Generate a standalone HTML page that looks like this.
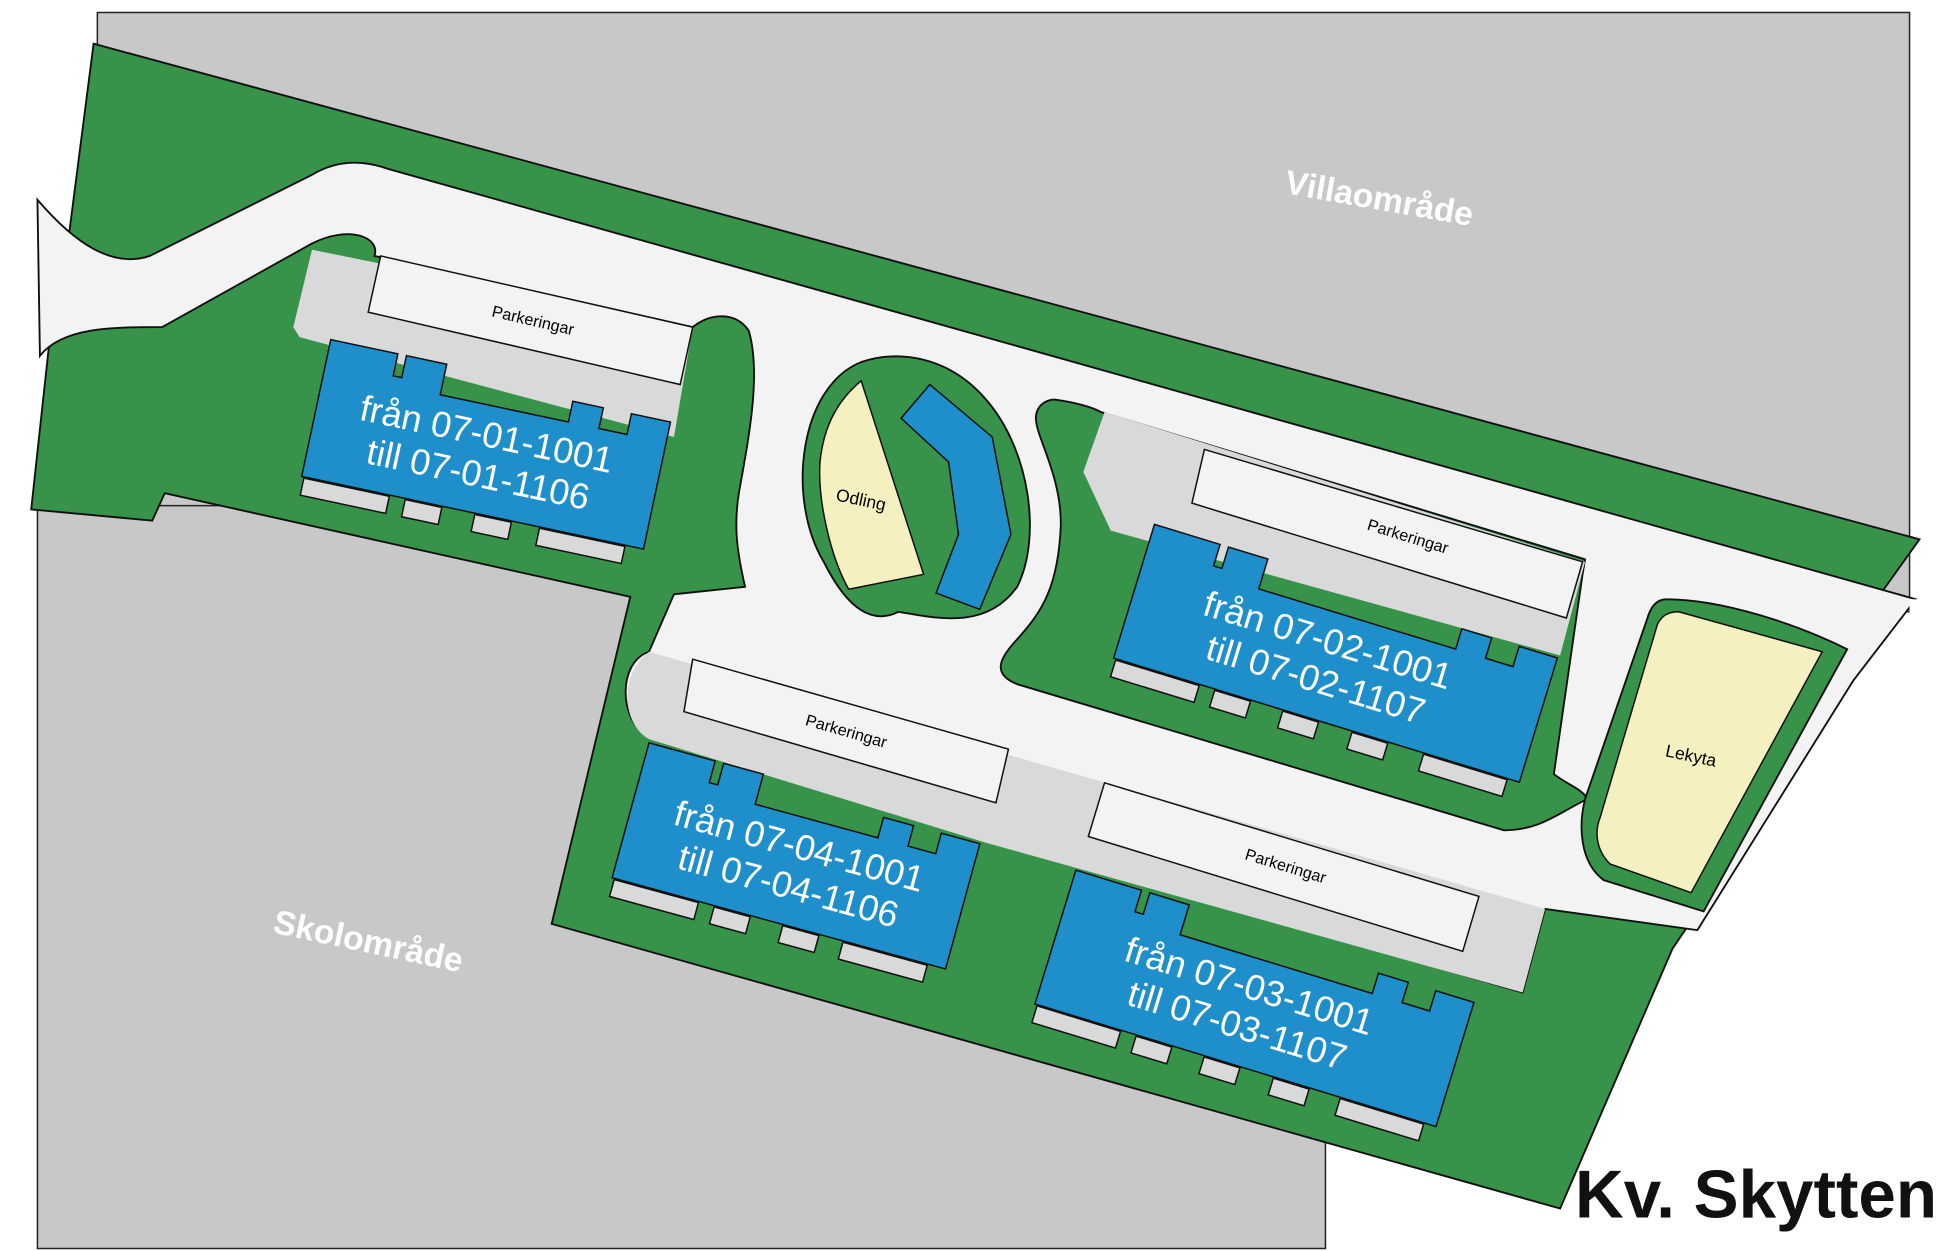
<!DOCTYPE html>
<html><head><meta charset="utf-8"><style>
html,body{margin:0;padding:0;background:#fff;}
svg{display:block;}
text{font-family:"Liberation Sans",sans-serif;}
</style></head><body>
<svg width="1947" height="1251" viewBox="0 0 1560 1002" preserveAspectRatio="none" xmlns="http://www.w3.org/2000/svg">
<rect width="1560" height="1002" fill="#fff"/>
<rect x="78" y="10" width="1452" height="480" fill="#c8c8c8" stroke="#222" stroke-width="1.2"/>
<rect x="30" y="405" width="1032" height="595" fill="#c8c8c8" stroke="#222" stroke-width="1.2"/>
<path d="M75,35 L1538,432 L1500,485 L1485,545 L1340,760 L1250,968 L442,740 L505,478 L132,395 L122,417 L25,408 L40,270 L55,190 Z" fill="#37924a" stroke="#111" stroke-width="1.5"/>
<path d="M30,160 C60,195 90,215 120,205 L250,140 C270,128 290,128 310,135 L1535,480 L1485,545 L1360,745 L1238,728 L1220,795 L520,590 C495,578 495,530 520,522 L540,476 L597,470 C590,440 588,420 592,395 C600,350 610,300 600,265 C590,250 570,250 555,262 L300,205 C305,190 280,180 250,195 L130,262 C90,262 50,262 32,285 Z" fill="#f3f3f3" stroke="#111" stroke-width="1.5"/>
<rect x="1530" y="480" width="30" height="70" fill="#fff"/>
<path d="M690,290 C640,310 630,400 660,450 C680,490 700,500 720,490 C750,495 790,505 815,470 C835,430 825,360 790,320 C760,285 720,280 690,290 Z" fill="#37924a" stroke="#111" stroke-width="1.5"/>
<path d="M690,305 L740,460 L680,472 C665,445 655,400 657,370 C660,340 672,320 690,305 Z" fill="#f5f0c0" stroke="#111" stroke-width="1.2"/>
<path d="M745,308 L795,350 L810,428 L785,488 L750,475 L768,428 L760,370 L722,335 Z" fill="#1e8fcb" stroke="#111" stroke-width="1.2"/>
<text x="690" y="405" font-size="14" transform="rotate(12 690 400)" text-anchor="middle">Odling</text>
<path d="M845,320 C860,322 875,326 882,330 L1270,448 L1268,460 L1245,620 C1255,628 1268,632 1272,640 C1250,650 1235,665 1205,665 L815,548 C795,540 800,528 815,512 C835,490 848,470 850,420 C850,380 830,350 830,335 C830,325 838,320 845,320 Z" fill="#37924a" stroke="#111" stroke-width="1.5"/>
<path d="M1335,480 C1380,480 1440,500 1480,520 L1365,730 L1285,705 C1265,690 1265,660 1270,640 L1320,495 C1323,485 1328,480 1335,480 Z" fill="#37924a" stroke="#111" stroke-width="1.5"/>
<path d="M1345,490 L1460,522 L1355,715 L1290,692 C1278,680 1278,665 1282,655 L1328,500 C1332,492 1338,490 1345,490 Z" fill="#f5f0c0" stroke="#111" stroke-width="1.2"/>
<text x="1355" y="610" font-size="14" text-anchor="middle" transform="rotate(12 1355 605)">Lekyta</text>
<path d="M250,200 L555,262 L540,350 L240,270 L235,262 Z" fill="#d9d9d9"/>
<path d="M885,330 L1270,450 L1250,525 L890,425 L868,378 Z" fill="#d9d9d9"/>
<path d="M520,522 L1238,728 L1220,795 L790,675 L520,592 C498,580 496,540 520,522 Z" fill="#d9d9d9"/>
<path d="M305,205 L555,262 L545,308 L295,250 Z" fill="#f3f3f3" stroke="#111" stroke-width="1.2"/>
<text x="427" y="261" font-size="13" text-anchor="middle" transform="rotate(13 427 257)">Parkeringar</text>
<path d="M965,360 L1268,450 L1255,495 L955,403 Z" fill="#f3f3f3" stroke="#111" stroke-width="1.2"/>
<text x="1128" y="434" font-size="13" text-anchor="middle" transform="rotate(17 1128 430)">Parkeringar</text>
<path d="M555,528 L808,600 L798,643 L548,570 Z" fill="#f3f3f3" stroke="#111" stroke-width="1.2"/>
<text x="678" y="590" font-size="13" text-anchor="middle" transform="rotate(16 678 586)">Parkeringar</text>
<path d="M885,627 L1185,718 L1172,762 L872,670 Z" fill="#f3f3f3" stroke="#111" stroke-width="1.2"/>
<text x="1030" y="698" font-size="13" text-anchor="middle" transform="rotate(17 1030 694)">Parkeringar</text>
<g transform="translate(265,272) rotate(12)" stroke="#111" stroke-width="1.2">
<g fill="#d9d9d9"><rect x="2" y="113" width="70" height="14"/><rect x="85" y="113" width="30" height="14"/><rect x="142" y="113" width="30" height="14"/><rect x="195" y="113" width="70" height="14"/></g>
<path d="M0,0 H55 V18 H62 V0 H95 V25 H200 V8 H225 V25 H248 V8 H280 V112 H0 Z" fill="#1e8fcb"/>
<g fill="#fff" stroke="none" font-size="29" text-anchor="middle"><text x="138" y="58">från 07-01-1001</text><text x="138" y="91">till 07-01-1106</text></g>
</g>
<g transform="translate(925,420) rotate(17)" stroke="#111" stroke-width="1.2">
<g fill="#d9d9d9"><rect x="2" y="113" width="70" height="14"/><rect x="85" y="113" width="30" height="14"/><rect x="142" y="113" width="30" height="14"/><rect x="200" y="113" width="30" height="14"/><rect x="260" y="113" width="70" height="14"/></g>
<path d="M0,0 H55 V18 H62 V0 H95 V25 H260 V8 H285 V25 H308 V8 H340 V112 H0 Z" fill="#1e8fcb"/>
<g fill="#fff" stroke="none" font-size="29" text-anchor="middle"><text x="160" y="58">från 07-02-1001</text><text x="160" y="91">till 07-02-1107</text></g>
</g>
<g transform="translate(520,595) rotate(15.3)" stroke="#111" stroke-width="1.2">
<g fill="#d9d9d9"><rect x="2" y="113" width="70" height="14"/><rect x="85" y="113" width="30" height="14"/><rect x="142" y="113" width="30" height="14"/><rect x="192" y="113" width="70" height="14"/></g>
<path d="M0,0 H55 V18 H62 V0 H95 V25 H197 V8 H222 V25 H245 V8 H277 V112 H0 Z" fill="#1e8fcb"/>
<g fill="#fff" stroke="none" font-size="29" text-anchor="middle"><text x="138" y="58">från 07-04-1001</text><text x="138" y="91">till 07-04-1106</text></g>
</g>
<g transform="translate(862,697) rotate(17)" stroke="#111" stroke-width="1.2">
<g fill="#d9d9d9"><rect x="2" y="113" width="70" height="14"/><rect x="85" y="113" width="30" height="14"/><rect x="142" y="113" width="30" height="14"/><rect x="200" y="113" width="30" height="14"/><rect x="256" y="113" width="70" height="14"/></g>
<path d="M0,0 H55 V18 H62 V0 H95 V25 H256 V8 H281 V25 H304 V8 H336 V112 H0 Z" fill="#1e8fcb"/>
<g fill="#fff" stroke="none" font-size="29" text-anchor="middle"><text x="160" y="58">från 07-03-1001</text><text x="160" y="91">till 07-03-1107</text></g>
</g>
<text x="1105" y="168" font-size="27" font-weight="bold" fill="#fff" text-anchor="middle" transform="rotate(10 1105 160)">Villaområde</text>
<text x="295" y="763" font-size="27" font-weight="bold" fill="#fff" text-anchor="middle" transform="rotate(12 295 755)">Skolområde</text>
<text x="1407" y="975" font-size="54" font-weight="bold" fill="#111" text-anchor="middle">Kv. Skytten</text>
</svg>
</body></html>
